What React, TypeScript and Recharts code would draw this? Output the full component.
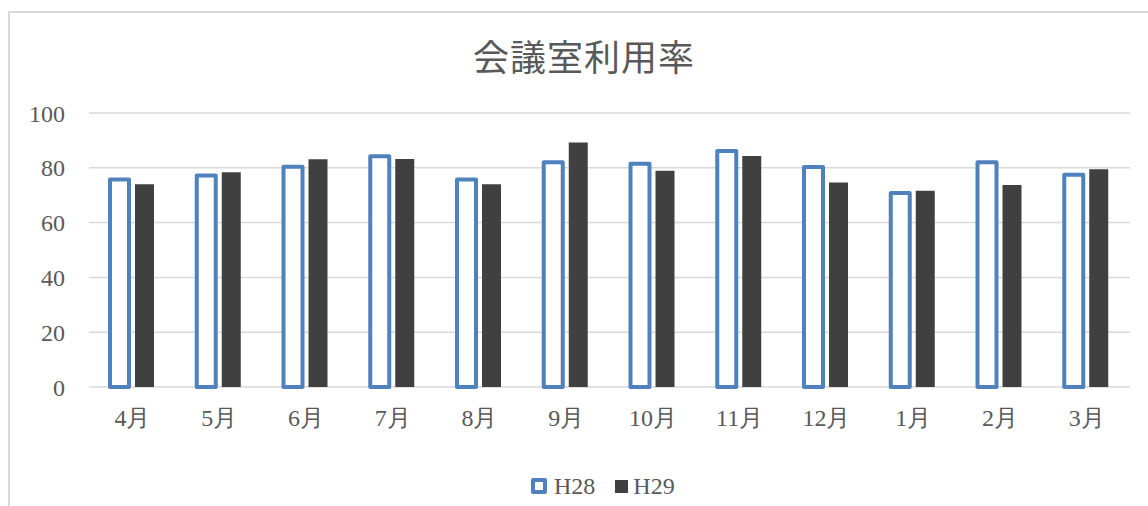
import React from 'react';
import { BarChart, Bar, XAxis, YAxis, CartesianGrid, Legend } from 'recharts';

// 月別の会議室利用率 (%)
const months = ['4月', '5月', '6月', '7月', '8月', '9月', '10月', '11月', '12月', '1月', '2月', '3月'];
const h28 = [75.7, 77.2, 80.4, 84.2, 75.7, 82.0, 81.5, 86.1, 80.3, 70.8, 82.0, 77.5];
const h29 = [74.0, 78.4, 83.1, 83.2, 74.0, 89.2, 78.9, 84.3, 74.6, 71.6, 73.7, 79.5];
const yTicks = [0, 20, 40, 60, 80, 100];

const data = months.map((m, i) => ({ month: m, H28: h28[i], H29: h29[i] }));

const BLUE = '#4f81bd';
const DARK = '#404040';
const TEXT = '#595959';
const GRID = '#d9d9d9';
const SERIF = 'Liberation Serif, DejaVu Serif, serif';

const LegendContent = () => (
  <div
    style={{
      display: 'flex',
      alignItems: 'center',
      height: 40,
      paddingLeft: 531,
      boxSizing: 'border-box',
      fontFamily: SERIF,
      fontSize: 24,
      color: TEXT,
    }}
  >
    <span
      style={{
        width: 8,
        height: 8,
        border: `4px solid ${BLUE}`,
        borderRadius: 2,
        background: '#fff',
        display: 'inline-block',
        marginRight: 7,
      }}
    />
    <span style={{ marginRight: 20 }}>H28</span>
    <span
      style={{
        width: 13,
        height: 13,
        background: DARK,
        display: 'inline-block',
        marginRight: 5,
      }}
    />
    <span>H29</span>
  </div>
);

export default function App() {
  return (
    <div
      style={{
        position: 'fixed',
        left: 0,
        top: 0,
        width: 1148,
        height: 506,
        overflow: 'hidden',
        background: '#fff',
      }}
    >
      <div
        style={{
          position: 'absolute',
          left: 8,
          top: 11,
          width: 1160,
          height: 520,
          border: `2px solid ${GRID}`,
          boxSizing: 'border-box',
        }}
      />
      <div
        style={{
          position: 'absolute',
          left: 0,
          top: 37,
          width: 1168,
          textAlign: 'center',
          fontFamily: "'Noto Sans CJK JP', sans-serif",
          fontSize: 36,
          lineHeight: '36px',
          color: TEXT,
          letterSpacing: 1,
        }}
      >
        会議室利用率
      </div>
      <div style={{ position: 'absolute', left: 0, top: 0 }}>
        <BarChart
          width={1148}
          height={506}
          data={data}
          margin={{ top: 113, right: 18, bottom: 0, left: 0 }}
          barSize={19}
          barGap={6}
        >
          <CartesianGrid vertical={false} stroke={GRID} strokeWidth={1.5} />
          <XAxis
            dataKey="month"
            axisLine={false}
            tickLine={false}
            tickMargin={16}
            height={79}
            interval={0}
            tick={{ fill: TEXT, fontSize: 24, fontFamily: SERIF }}
          />
          <YAxis
            domain={[0, 100]}
            ticks={yTicks}
            width={89}
            axisLine={false}
            tickLine={false}
            tickMargin={18}
            tick={{ fill: TEXT, fontSize: 24, fontFamily: SERIF }}
          />
          <Legend verticalAlign="bottom" content={<LegendContent />} wrapperStyle={{ height: 40 }} />
          <Bar
            dataKey="H28"
            fill="#ffffff"
            stroke={BLUE}
            strokeWidth={4}
            strokeLinejoin="round"
            isAnimationActive={false}
          />
          <Bar dataKey="H29" fill={DARK} isAnimationActive={false} />
        </BarChart>
      </div>
    </div>
  );
}
